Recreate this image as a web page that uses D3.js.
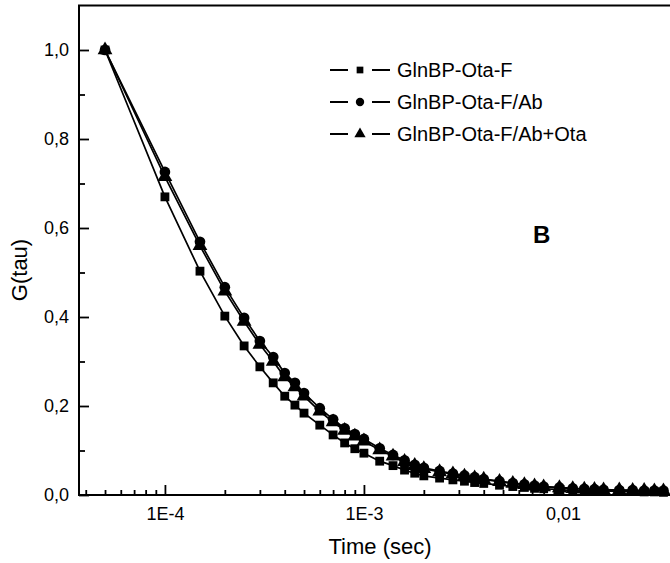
<!DOCTYPE html>
<html>
<head>
<meta charset="utf-8">
<script src="https://cdn.jsdelivr.net/npm/d3@7"></script>
<style>
  body { margin: 0; background: #fff; }
  svg { display: block; font-family: Arial, "Liberation Sans", Helvetica, sans-serif; }
</style>
</head>
<body>
<div id="chart"></div>
<script>
// lag times (sec), shared by all three curves
const tau = [5e-5, 1e-4, 1.5e-4, 2e-4, 2.5e-4, 3e-4, 3.5e-4, 4e-4, 4.5e-4, 5e-4,
  6e-4, 7e-4, 8e-4, 9e-4, 1e-3,
  1.2e-3, 1.4e-3, 1.6e-3, 1.8e-3, 2e-3,
  2.4e-3, 2.8e-3, 3.2e-3, 3.6e-3, 4e-3,
  4.8e-3, 5.6e-3, 6.4e-3, 7.2e-3, 8e-3,
  9.6e-3, 1.12e-2, 1.28e-2, 1.44e-2, 1.6e-2,
  1.92e-2, 2.24e-2, 2.56e-2, 2.88e-2, 3.2e-2];

const gF = [1.0, 0.670, 0.503, 0.402, 0.335, 0.288, 0.252, 0.222, 0.202, 0.184,
  0.157, 0.135, 0.117, 0.104, 0.094,
  0.076, 0.066, 0.056, 0.049, 0.043,
  0.038, 0.034, 0.031, 0.028, 0.026,
  0.022, 0.019, 0.017, 0.015, 0.014,
  0.012, 0.010, 0.010, 0.009, 0.009,
  0.008, 0.008, 0.007, 0.007, 0.006];

const gFAb = [1.0, 0.726, 0.569, 0.467, 0.398, 0.346, 0.310, 0.274, 0.252, 0.229,
  0.195, 0.170, 0.150, 0.137, 0.126,
  0.105, 0.090, 0.078, 0.068, 0.061,
  0.054, 0.048, 0.044, 0.040, 0.036,
  0.031, 0.027, 0.024, 0.021, 0.019,
  0.017, 0.015, 0.014, 0.013, 0.012,
  0.011, 0.011, 0.010, 0.010, 0.010];

const gFAbOta = [1.0, 0.715, 0.560, 0.458, 0.390, 0.338, 0.300, 0.265, 0.243, 0.222,
  0.188, 0.164, 0.145, 0.132, 0.121,
  0.101, 0.087, 0.075, 0.066, 0.059,
  0.052, 0.047, 0.042, 0.038, 0.035,
  0.030, 0.026, 0.023, 0.020, 0.018,
  0.016, 0.014, 0.013, 0.012, 0.011,
  0.011, 0.010, 0.010, 0.009, 0.009];

const seriesNames = ["GlnBP-Ota-F", "GlnBP-Ota-F/Ab", "GlnBP-Ota-F/Ab+Ota"];
const xTickValues = [1e-4, 1e-3, 1e-2];
const xTickLabels = ["1E-4", "1E-3", "0,01"];
const yTickValues = [0, 0.2, 0.4, 0.6, 0.8, 1.0];
const yTickLabels = ["0,0", "0,2", "0,4", "0,6", "0,8", "1,0"];

const width = 670, height = 563;
const plotLeft = 79, plotRight = 681, plotTop = 5.5, plotBottom = 495;

const svg = d3.select("#chart").append("svg")
    .attr("width", width)
    .attr("height", height);

const x = d3.scaleLog().domain([3.7e-5, 0.0392]).range([plotLeft, plotRight]);
const y = d3.scaleLinear().domain([0, 1.1]).range([plotBottom, plotTop]);

// minor ticks
const xMinor = [];
[1e-5, 1e-4, 1e-3, 1e-2].forEach(d => {
  for (let k = 2; k <= 9; k++) {
    const v = d * k;
    if (v > 3.7e-5 && v < 0.0392) xMinor.push(v);
  }
});
const yMinor = [0.1, 0.3, 0.5, 0.7, 0.9];

svg.append("g")
    .attr("transform", `translate(0,${plotBottom})`)
    .call(d3.axisBottom(x).tickValues(xMinor).tickSize(-5).tickFormat(""))
    .call(g => g.select(".domain").remove())
    .selectAll("line").attr("stroke", "#000").attr("stroke-width", 1.8);

svg.append("g")
    .attr("transform", `translate(${plotLeft},0)`)
    .call(d3.axisLeft(y).tickValues(yMinor).tickSize(-6).tickFormat(""))
    .call(g => g.select(".domain").remove())
    .selectAll("line").attr("stroke", "#000").attr("stroke-width", 1.8);

// major axes
const xAxis = svg.append("g")
    .attr("transform", `translate(0,${plotBottom})`)
    .call(d3.axisBottom(x).tickValues(xTickValues).tickSizeInner(-10).tickSizeOuter(0)
      .tickPadding(12).tickFormat((d, i) => xTickLabels[i]));
xAxis.select(".domain").remove();
xAxis.selectAll("line").attr("stroke", "#000").attr("stroke-width", 1.8);
xAxis.selectAll("text").attr("fill", "#000").style("font-size", "18px");

const yAxis = svg.append("g")
    .attr("transform", `translate(${plotLeft},0)`)
    .call(d3.axisLeft(y).tickValues(yTickValues).tickSizeInner(-10).tickSizeOuter(0)
      .tickPadding(10).tickFormat((d, i) => yTickLabels[i]));
yAxis.select(".domain").remove();
yAxis.selectAll("line").attr("stroke", "#000").attr("stroke-width", 1.8);
yAxis.selectAll("text").attr("fill", "#000").style("font-size", "18px");

// frame
svg.append("path")
    .attr("d", `M${plotRight},${plotTop}H${plotLeft}V${plotBottom}H${plotRight}`)
    .attr("fill", "none")
    .attr("stroke", "#000")
    .attr("stroke-width", 2);

// axis titles
svg.append("text")
    .attr("x", 380).attr("y", 554)
    .attr("text-anchor", "middle")
    .style("font-size", "22px")
    .attr("fill", "#000")
    .text("Time (sec)");

svg.append("text")
    .attr("transform", "translate(27,270) rotate(-90)")
    .attr("text-anchor", "middle")
    .style("font-size", "22px")
    .attr("fill", "#000")
    .text("G(tau)");

svg.append("text")
    .attr("x", 533).attr("y", 243)
    .style("font-size", "24px")
    .style("font-weight", "bold")
    .attr("fill", "#000")
    .text("B");

// curves
const series = [
  { name: seriesNames[0], values: gF, symbol: d3.symbolSquare, size: 78 },
  { name: seriesNames[2], values: gFAbOta, symbol: d3.symbolTriangle, size: 95 },
  { name: seriesNames[1], values: gFAb, symbol: d3.symbolCircle, size: 90 }
];

const line = d3.line()
    .x(d => x(d[0]))
    .y(d => y(d[1]));

series.forEach(s => {
  const pts = tau.map((t, i) => [t, s.values[i]]);
  svg.append("path")
      .datum(pts)
      .attr("d", line)
      .attr("fill", "none")
      .attr("stroke", "#000")
      .attr("stroke-width", 1.7);
  svg.append("g").selectAll("path")
      .data(pts)
      .enter().append("path")
      .attr("transform", d => `translate(${x(d[0])},${y(d[1])})`)
      .attr("d", d3.symbol().type(s.symbol).size(s.size))
      .attr("fill", "#000");
});

// legend
const legendRows = [
  { name: seriesNames[0], symbol: d3.symbolSquare, size: 45 },
  { name: seriesNames[1], symbol: d3.symbolCircle, size: 55 },
  { name: seriesNames[2], symbol: d3.symbolTriangle, size: 55 }
];
const legend = svg.append("g").attr("transform", "translate(330,70)");
legendRows.forEach((r, i) => {
  const g = legend.append("g").attr("transform", `translate(0,${i * 32})`);
  g.append("line").attr("x1", 0).attr("x2", 18).attr("stroke", "#000").attr("stroke-width", 2);
  g.append("line").attr("x1", 42).attr("x2", 60).attr("stroke", "#000").attr("stroke-width", 2);
  g.append("path").attr("transform", "translate(30,0)")
      .attr("d", d3.symbol().type(r.symbol).size(r.size)).attr("fill", "#000");
  g.append("text").attr("x", 67).attr("y", 7)
      .style("font-size", "20px").attr("fill", "#000")
      .text(r.name);
});
</script>
</body>
</html>
